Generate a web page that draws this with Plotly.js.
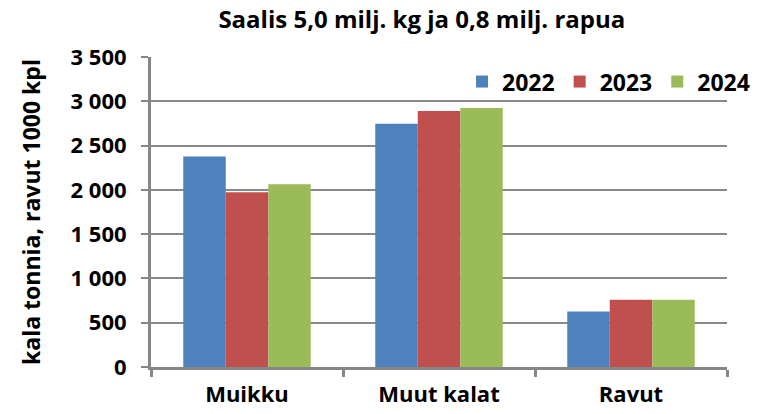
<!DOCTYPE html>
<html>
<head>
<meta charset="utf-8">
<script src="https://cdn.plot.ly/plotly-3.0.1.min.js"></script>
<style>html,body{margin:0;padding:0;background:#fff;}#chart{width:767px;height:414px;}</style>
</head>
<body>
<div id="chart"></div>
<script>
const categories = ["Muikku", "Muut kalat", "Ravut"];
const seriesNames = ["2022", "2023", "2024"];
const values2022 = [2376, 2745, 627];
const values2023 = [1973, 2889, 758];
const values2024 = [2063, 2923, 758];
const yTicks = [0, 500, 1000, 1500, 2000, 2500, 3000, 3500];
const colors = ["#4F81BD", "#C0504D", "#9BBB59"];
const allValues = [values2022, values2023, values2024];

const FONT = "Open Sans, Liberation Sans, Arial, sans-serif";

const traces = seriesNames.map((n, i) => ({
  type: "bar",
  name: n,
  x: categories,
  y: allValues[i],
  marker: {color: colors[i], line: {width: 0}},
  hoverinfo: "x+y+name"
}));

const layout = {
  width: 767, height: 414,
  margin: {l: 151, r: 18, t: 57, b: 47},
  paper_bgcolor: "#fff", plot_bgcolor: "#fff",
  separators: ", ",
  barmode: "group",
  bargap: 0.336,
  bargroupgap: 0,
  title: {text: "<b>Saalis 5,0 milj. kg ja 0,8 milj. rapua</b>", font: {family: FONT, size: 24, color: "#000"}, x: 0.55, xanchor: "center", y: 0.952, yanchor: "middle"},
  font: {family: FONT, color: "#000"},
  xaxis: {
    type: "category",
    showline: true, linecolor: "#868686", linewidth: 3,
    ticks: "outside", tickson: "boundaries", ticklen: 7, tickwidth: 3, tickcolor: "#868686",
    ticklabelstandoff: 6,
    tickfont: {family: FONT, size: 22, color: "#000", weight: "bold"},
    showgrid: false, zeroline: false
  },
  yaxis: {
    range: [0, 3500],
    tickvals: yTicks,
    tickformat: ",d",
    showline: true, linecolor: "#868686", linewidth: 3,
    ticks: "outside", ticklen: 7, tickwidth: 2, tickcolor: "#868686",
    ticklabelstandoff: 10,
    showgrid: true, gridcolor: "#898989", gridwidth: 2,
    zeroline: false,
    tickfont: {family: FONT, size: 22, color: "#000", weight: "bold"},
    title: {text: "<b>kala tonnia, ravut 1000 kpl</b>", font: {family: FONT, size: 23, color: "#000"}, standoff: 24}
  },
  legend: {
    orientation: "h",
    x: 0.54, y: 0.99, xanchor: "left", yanchor: "top",
    font: {family: FONT, size: 23, color: "#000", weight: "bold"},
    bgcolor: "rgba(255,255,255,0)",
    itemwidth: 30,
    traceorder: "normal"
  },
  showlegend: true
};

Plotly.newPlot("chart", traces, layout, {displayModeBar: false, staticPlot: true});
</script>
</body>
</html>
